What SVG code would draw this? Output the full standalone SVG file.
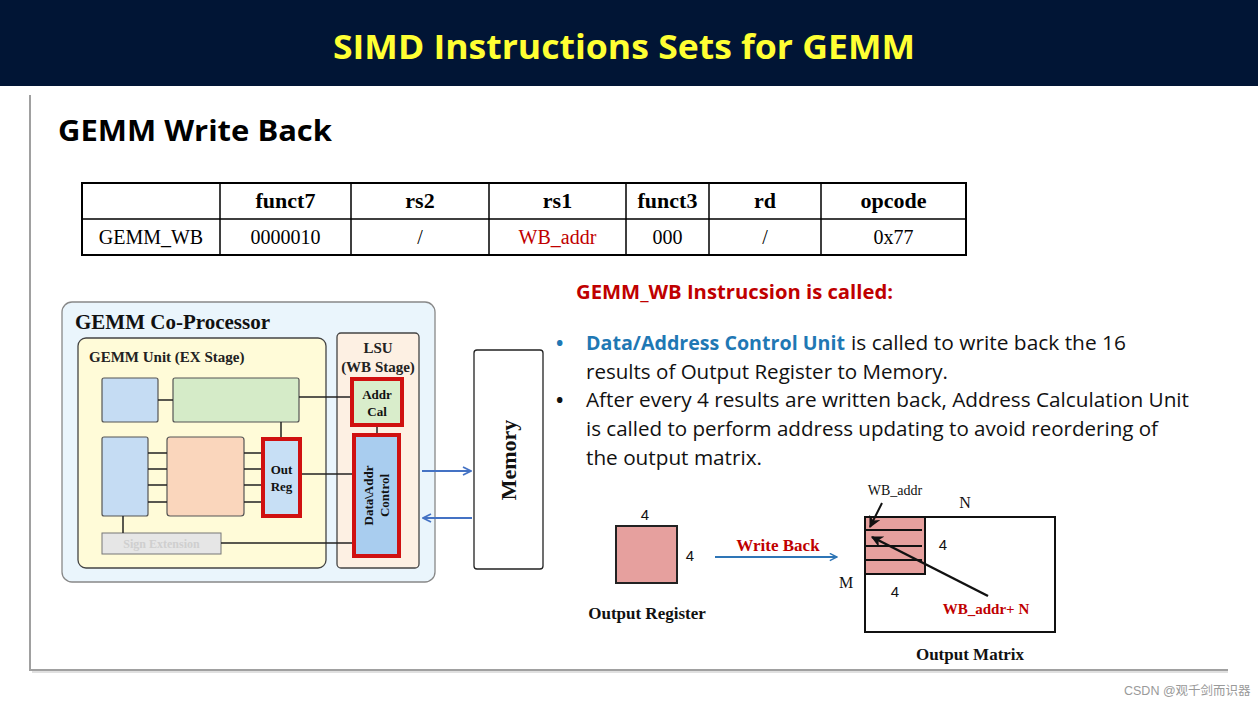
<svg xmlns="http://www.w3.org/2000/svg" width="1258" height="708" viewBox="0 0 1258 708">
<defs>
<style>
.serif{font-family:"Liberation Serif","Times New Roman",serif}
.sans{font-family:"Open Sans","Noto Sans",sans-serif}
.b{font-weight:bold}
.th{font-family:"Liberation Serif",serif;font-weight:bold;font-size:22px;text-anchor:middle}
.td{font-family:"Liberation Serif",serif;font-size:20px;text-anchor:middle}
.blk{stroke:#555;stroke-width:1.2}
.wire{stroke:#222;stroke-width:1.5;fill:none}
.redb{stroke:#d01010;stroke-width:4}
.body{font-family:"Open Sans","Noto Sans",sans-serif;font-size:19.5px;fill:#111}
</style>
<marker id="openArrowBlue" viewBox="0 0 10 10" refX="9" refY="5" markerWidth="10" markerHeight="10" markerUnits="userSpaceOnUse" orient="auto">
<path d="M1,1 L9,5 L1,9" fill="none" stroke="#4472C4" stroke-width="1.8"/>
</marker>
<marker id="openArrowBlue2" viewBox="0 0 10 10" refX="9" refY="5" markerWidth="9" markerHeight="9" markerUnits="userSpaceOnUse" orient="auto">
<path d="M1,1 L9,5 L1,9" fill="none" stroke="#2E75B6" stroke-width="1.6"/>
</marker>
<marker id="blackArrow" viewBox="0 0 10 10" refX="9" refY="5" markerWidth="12" markerHeight="12" markerUnits="userSpaceOnUse" orient="auto">
<path d="M0,0 L10,5 L0,10 L3,5 Z" fill="#111"/>
</marker>
</defs>
<rect width="1258" height="708" fill="#ffffff"/>
<!-- header -->
<rect x="0" y="0" width="1258" height="86" fill="#011535"/>
<text x="624" y="59" text-anchor="middle" class="sans b" font-size="34" fill="#ffff33" textLength="582" lengthAdjust="spacingAndGlyphs">SIMD Instructions Sets for GEMM</text>
<!-- slide frame -->
<path d="M30,95 L30,670 L1228,670" fill="none" stroke="#a0a0a0" stroke-width="2"/>
<path d="M32,672 L1228,672" stroke="#e0e0e0" stroke-width="2"/>
<text x="58" y="141" class="sans b" font-size="28" fill="#000" textLength="274" lengthAdjust="spacingAndGlyphs">GEMM Write Back</text>

<!-- table -->
<g id="instr-table">
<rect x="82" y="183" width="884" height="72" fill="#fff" stroke="#000" stroke-width="2"/>
<path d="M82,219 H966 M220,183 V255 M351,183 V255 M489,183 V255 M626,183 V255 M709,183 V255 M821,183 V255" stroke="#000" stroke-width="1.5"/>
<text class="th" x="285.5" y="208">funct7</text>
<text class="th" x="420" y="208">rs2</text>
<text class="th" x="557.5" y="208">rs1</text>
<text class="th" x="667.5" y="208">funct3</text>
<text class="th" x="765" y="208">rd</text>
<text class="th" x="893.5" y="208">opcode</text>
<text class="td" x="151" y="244">GEMM_WB</text>
<text class="td" x="285.5" y="244">0000010</text>
<text class="td" x="420" y="244">/</text>
<text class="td" x="557.5" y="244" fill="#c00000">WB_addr</text>
<text class="td" x="667.5" y="244">000</text>
<text class="td" x="765" y="244">/</text>
<text class="td" x="893.5" y="244">0x77</text>
</g>

<!-- co-processor -->
<g id="coprocessor">
<rect x="62" y="302" width="373" height="280" rx="10" fill="#eaf5fc" stroke="#888" stroke-width="1.3"/>
<text x="75" y="329" class="serif b" font-size="21" fill="#111">GEMM Co-Processor</text>
</g>
<g id="gemm-unit">
<rect x="78" y="338" width="248" height="230" rx="8" fill="#fffbd8" stroke="#444" stroke-width="1.3"/>
<text x="89" y="362" class="serif b" font-size="15" fill="#222">GEMM Unit (EX Stage)</text>
</g>
<g id="lsu">
<rect x="337" y="333" width="82" height="235" rx="4" fill="#fdf0e3" stroke="#444" stroke-width="1.3"/>
<text x="378" y="353" class="serif b" font-size="15" text-anchor="middle" fill="#222">LSU</text>
<text x="378" y="372" class="serif b" font-size="15" text-anchor="middle" fill="#222">(WB Stage)</text>
</g>

<g id="block-tl"><rect class="blk" x="102" y="378" width="56" height="44" rx="2" fill="#c5dcf3"/></g>
<g id="block-green"><rect class="blk" x="173" y="378" width="126" height="44" rx="2" fill="#d5ebc8"/></g>
<g id="block-left"><rect class="blk" x="102" y="437" width="46" height="79" rx="2" fill="#c5dcf3"/></g>
<g id="block-orange"><rect class="blk" x="167" y="437" width="77" height="79" rx="3" fill="#fad6bc"/></g>
<g id="out-reg">
<rect class="redb" x="263" y="439" width="37" height="77" fill="#c7dff5"/>
<text x="281.5" y="474" class="serif b" font-size="13" text-anchor="middle" fill="#111">Out</text>
<text x="281.5" y="491" class="serif b" font-size="13" text-anchor="middle" fill="#111">Reg</text>
</g>
<g id="sign-ext">
<rect x="102" y="533" width="119" height="21" fill="#e6e6e6" stroke="#777" stroke-width="1"/>
<text x="161.5" y="548" class="serif b" font-size="12" text-anchor="middle" fill="#cfcfcf">Sign Extension</text>
</g>
<g id="addr-cal">
<rect class="redb" x="352" y="379" width="50" height="46" fill="#d9edcb"/>
<text x="377" y="399" class="serif b" font-size="13" text-anchor="middle" fill="#111">Addr</text>
<text x="377" y="416" class="serif b" font-size="13" text-anchor="middle" fill="#111">Cal</text>
</g>
<g id="data-addr">
<rect class="redb" x="354" y="435" width="45" height="121" fill="#a9cdef"/>
<text transform="translate(373,495.5) rotate(-90)" class="serif b" font-size="13" text-anchor="middle" fill="#111">Data\Addr</text>
<text transform="translate(389,495.5) rotate(-90)" class="serif b" font-size="13" text-anchor="middle" fill="#111">Control</text>
</g>
<g id="memory">
<rect x="474" y="350" width="69" height="219" rx="3" fill="#fff" stroke="#222" stroke-width="1.3"/>
<text transform="translate(516,460) rotate(-90)" class="serif b" font-size="22" text-anchor="middle" fill="#111">Memory</text>
</g>

<!-- description -->
<g id="description">
<text x="576" y="299" class="sans b" font-size="19" fill="#c00000" textLength="317" lengthAdjust="spacingAndGlyphs">GEMM_WB Instrucsion is called:</text>
<text x="556" y="350" class="body b" style="fill:#1f78b4">•</text>
<text x="586" y="350" class="body b" textLength="259" lengthAdjust="spacingAndGlyphs" style="fill:#1f78b4">Data/Address Control Unit</text>
<text x="851" y="350" class="body" textLength="275" lengthAdjust="spacingAndGlyphs">is called to write back the 16</text>
<text x="586" y="379" class="body" textLength="362" lengthAdjust="spacingAndGlyphs">results of Output Register to Memory.</text>
<text x="556" y="407" class="body b">•</text>
<text x="586" y="407" class="body" textLength="603" lengthAdjust="spacingAndGlyphs">After every 4 results are written back, Address Calculation Unit</text>
<text x="586" y="436" class="body" textLength="572" lengthAdjust="spacingAndGlyphs">is called to perform address updating to avoid reordering of</text>
<text x="586" y="465" class="body" textLength="176" lengthAdjust="spacingAndGlyphs">the output matrix.</text>
</g>

<!-- output register -->
<g id="output-register">
<rect x="616" y="526" width="61" height="57" fill="#e6a09e" stroke="#222" stroke-width="2"/>
<text x="645" y="520" font-family="Liberation Sans,Arial,sans-serif" font-size="15" text-anchor="middle" fill="#111">4</text>
<text x="690" y="561" font-family="Liberation Sans,Arial,sans-serif" font-size="15" text-anchor="middle" fill="#111">4</text>
<text x="647" y="619" class="serif b" font-size="17" text-anchor="middle" fill="#111">Output Register</text>
</g>
<text x="778" y="551" class="serif b" font-size="17" text-anchor="middle" fill="#c00000">Write Back</text>

<!-- output matrix -->
<g id="output-matrix">
<rect x="865" y="517" width="190" height="115" fill="#fff" stroke="#111" stroke-width="2"/>
<rect x="865" y="517" width="60" height="57" fill="#e6a09e" stroke="#111" stroke-width="2"/>
<path d="M865,530 H922 M865,546 H922 M865,560 H922" stroke="#111" stroke-width="1.8"/>
<text x="895" y="495" class="serif" font-size="14" text-anchor="middle" fill="#111">WB_addr</text>
<text x="965" y="508" class="serif" font-size="16" text-anchor="middle" fill="#111">N</text>
<text x="943" y="550" font-family="Liberation Sans,Arial,sans-serif" font-size="15" text-anchor="middle" fill="#111">4</text>
<text x="846" y="588" class="serif" font-size="16" text-anchor="middle" fill="#111">M</text>
<text x="895" y="597" font-family="Liberation Sans,Arial,sans-serif" font-size="15" text-anchor="middle" fill="#111">4</text>
<text x="986" y="614" class="serif b" font-size="15" text-anchor="middle" fill="#c00000">WB_addr+ N</text>
<text x="970" y="660" class="serif b" font-size="17" text-anchor="middle" fill="#111">Output Matrix</text>
</g>

<!-- connectors -->
<g id="connectors">
<path class="wire" d="M158,400 H173"/>
<path class="wire" d="M299,397 H350"/>
<path class="wire" d="M281,422 V437"/>
<path class="wire" d="M148,453 H167 M148,469 H167 M148,485 H167 M148,502 H167"/>
<path class="wire" d="M244,453 H261 M244,469 H261 M244,485 H261 M244,502 H261"/>
<path class="wire" d="M302,474 H352"/>
<path class="wire" d="M123,516 V533"/>
<path class="wire" d="M221,543 H352"/>
<path class="wire" d="M377,427 V433"/>
<path d="M422,471 H471" stroke="#4472C4" stroke-width="2" marker-end="url(#openArrowBlue)"/>
<path d="M472,518 H423" stroke="#4472C4" stroke-width="2" marker-end="url(#openArrowBlue)"/>
<path d="M715,557 H837" stroke="#2E75B6" stroke-width="1.8" marker-end="url(#openArrowBlue2)"/>
<path d="M882,503 L870,527" stroke="#111" stroke-width="2" marker-end="url(#blackArrow)"/>
<path d="M988,596 L872,537" stroke="#111" stroke-width="2.5" marker-end="url(#blackArrow)"/>
</g>

<text x="1124" y="695" font-family="'Liberation Sans','Noto Sans CJK SC',sans-serif" font-size="12.5" fill="#9a9a9a">CSDN @观千剑而识器</text>
</svg>
